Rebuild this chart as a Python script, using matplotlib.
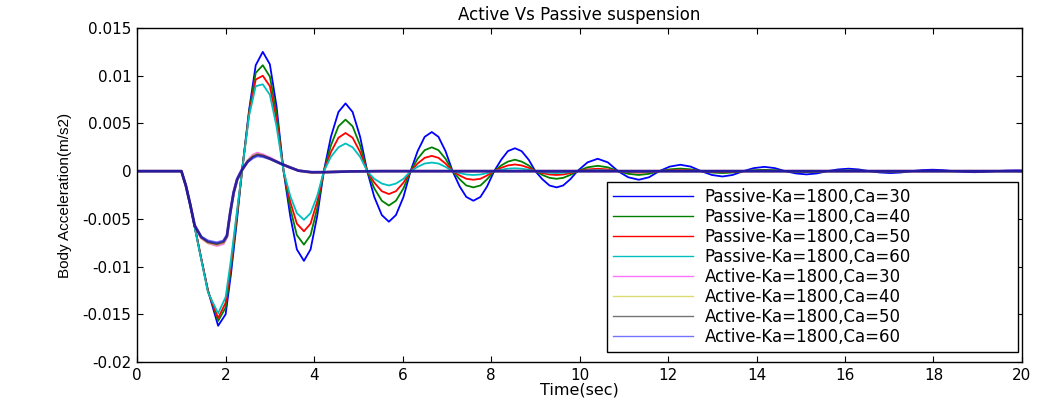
import matplotlib
matplotlib.use("Agg")
import matplotlib.pyplot as plt

# --- data ---
t_passive = [0.0, 1.0, 1.1, 1.2, 1.3, 1.45, 1.6, 1.83, 2.0, 2.12, 2.25, 2.37,
             2.53, 2.68, 2.84, 3.00, 3.15, 3.31,
             3.46, 3.61, 3.77, 3.92, 4.07, 4.22,
             4.38, 4.55, 4.71, 4.87, 5.04, 5.20,
             5.36, 5.53, 5.69, 5.85, 6.02, 6.18,
             6.34, 6.50, 6.66, 6.81, 6.97, 7.13,
             7.29, 7.44, 7.60, 7.76, 7.91, 8.07,
             8.23, 8.38, 8.54, 8.69, 8.85, 9.00,
             9.16, 9.32, 9.48, 9.63, 9.79, 9.95,
             10.18, 10.41, 10.64, 10.87,
             11.10, 11.34, 11.57, 11.80,
             12.04, 12.28, 12.51, 12.75,
             12.99, 13.23, 13.46, 13.70,
             13.94, 14.18, 14.41, 14.65,
             14.89, 15.13, 15.36, 15.60,
             15.84, 16.08, 16.31, 16.55,
             16.79, 17.03, 17.26, 17.50,
             17.74, 17.98, 18.21, 18.45,
             18.69, 18.93, 19.16, 19.40,
             19.64, 19.88, 20.00]

passive_ca30 = [0, 0, -0.0015, -0.0035, -0.0058, -0.0092, -0.0125, -0.0162, -0.0150, -0.0108, -0.0054, 0,
                0.0064, 0.0111, 0.0125, 0.0112, 0.0068, 0,
                -0.0047, -0.0082, -0.0094, -0.0082, -0.0047, 0,
                0.0036, 0.0062, 0.0071, 0.0062, 0.0036, 0,
                -0.0027, -0.0046, -0.0053, -0.0046, -0.0027, 0,
                0.0021, 0.0036, 0.0041, 0.0036, 0.0021, 0,
                -0.0016, -0.0027, -0.0031, -0.0027, -0.0016, 0,
                0.0012, 0.0021, 0.0024, 0.0021, 0.0012, 0,
                -0.00085, -0.0015, -0.0017, -0.0015, -0.00085, 0,
                0.00092, 0.0013, 0.00092, 0,
                -0.00064, -0.0009, -0.00064, 0,
                0.00048, 0.00067, 0.00048, 0,
                -0.0004, -0.00056, -0.0004, 0,
                0.00032, 0.00045, 0.00032, 0,
                -0.00024, -0.00034, -0.00024, 0,
                0.00018, 0.00026, 0.00018, 0,
                -0.00014, -0.0002, -0.00014, 0,
                0.00011, 0.00015, 0.00011, 0,
                -0.00008, -0.00011, -0.00008, 0,
                0.00006, 0.00008, 0.00007]

passive_ca40 = [0, 0, -0.0015, -0.0035, -0.0058, -0.0092, -0.0125, -0.0157, -0.0143, -0.0102, -0.0050, 0,
                0.0062, 0.0103, 0.0111, 0.0099, 0.0061, 0,
                -0.0039, -0.0067, -0.0077, -0.0067, -0.0039, 0,
                0.0027, 0.0047, 0.0054, 0.0047, 0.0027, 0,
                -0.0018, -0.0031, -0.0036, -0.0031, -0.0018, 0,
                0.0013, 0.0022, 0.0025, 0.0022, 0.0013, 0,
                -0.00085, -0.0015, -0.0017, -0.0015, -0.00085, 0,
                0.0006, 0.0010, 0.0012, 0.0010, 0.0006, 0,
                -0.0004, -0.0007, -0.0008, -0.0007, -0.0004, 0,
                0.0004, 0.00056, 0.0004, 0,
                -0.00028, -0.0004, -0.00028, 0,
                0.00019, 0.00027, 0.00019, 0,
                -0.00014, -0.0002, -0.00014, 0,
                0.0001, 0.00014, 0.0001, 0,
                -0.00007, -0.0001, -0.00007, 0,
                0.00005, 0.00007, 0.00005, 0,
                -0.00004, -0.00005, -0.00004, 0,
                0.00002, 0.00003, 0.00002, 0,
                0, 0, 0, 0,
                0, 0, 0]

passive_ca50 = [0, 0, -0.0015, -0.0035, -0.0058, -0.0092, -0.0126, -0.0154, -0.0138, -0.0098, -0.0047, 0,
                0.0060, 0.0096, 0.0100, 0.0089, 0.0054, 0,
                -0.0032, -0.0055, -0.0063, -0.0055, -0.0032, 0,
                0.0020, 0.0035, 0.0040, 0.0035, 0.0020, 0,
                -0.0012, -0.0021, -0.0024, -0.0021, -0.0012, 0,
                0.0008, 0.0014, 0.0016, 0.0014, 0.0008, 0,
                -0.00045, -0.0008, -0.0009, -0.0008, -0.00045, 0,
                0.00035, 0.0006, 0.0007, 0.0006, 0.00035, 0,
                -0.0002, -0.00035, -0.0004, -0.00035, -0.0002, 0,
                0.00018, 0.00025, 0.00018, 0,
                -0.0001, -0.00015, -0.0001, 0,
                0.00007, 0.0001, 0.00007, 0,
                -0.00004, -0.00006, -0.00004, 0,
                0.00003, 0.00004, 0.00003, 0,
                0, 0, 0, 0,
                0, 0, 0, 0,
                0, 0, 0, 0,
                0, 0, 0, 0,
                0, 0, 0, 0,
                0, 0, 0]

passive_ca60 = [0, 0, -0.0015, -0.0036, -0.0059, -0.0093, -0.0127, -0.0149, -0.0132, -0.0093, -0.0044, 0,
                0.0058, 0.0089, 0.0091, 0.0080, 0.0047, 0,
                -0.0026, -0.0044, -0.0051, -0.0044, -0.0026, 0,
                0.0015, 0.0025, 0.0029, 0.0025, 0.0015, 0,
                -0.0008, -0.0013, -0.0015, -0.0013, -0.0008, 0,
                0.00045, 0.0008, 0.0009, 0.0008, 0.00045, 0,
                -0.0002, -0.00035, -0.0004, -0.00035, -0.0002, 0,
                0.00015, 0.00026, 0.0003, 0.00026, 0.00015, 0,
                -0.0001, -0.00017, -0.0002, -0.00017, -0.0001, 0,
                0.00007, 0.0001, 0.00007, 0,
                -0.00004, -0.00005, -0.00004, 0,
                0, 0, 0, 0,
                0, 0, 0, 0,
                0, 0, 0, 0,
                0, 0, 0, 0,
                0, 0, 0, 0,
                0, 0, 0, 0,
                0, 0, 0, 0,
                0, 0, 0, 0,
                0, 0, 0]

t_active = [0.0, 1.0, 1.1, 1.2, 1.3, 1.45, 1.6, 1.8, 1.95, 2.03, 2.1, 2.18, 2.26, 2.37,
            2.5, 2.62, 2.72, 2.85, 3.0, 3.24, 3.45, 3.65, 3.95, 4.3, 4.8, 5.5, 20.0]

active_ca30 = [0, 0, -0.0015, -0.0035, -0.0057, -0.0070, -0.0075, -0.0078, -0.0076, -0.0069, -0.0045,
               -0.0023, -0.0009, 0.0001, 0.0011, 0.0017, 0.0019, 0.0017, 0.0014, 0.0008, 0.0004,
               0.00005, -0.00015, -0.0001, -0.00003, 0, 0]
active_ca40 = [0, 0, -0.0015, -0.0035, -0.0057, -0.0070, -0.0075, -0.0077, -0.0075, -0.0068, -0.0045,
               -0.0023, -0.0009, 0.0001, 0.0011, 0.0016, 0.0018, 0.0016, 0.0013, 0.0008, 0.0004,
               0.00005, -0.00015, -0.0001, -0.00003, 0, 0]
active_ca50 = [0, 0, -0.0015, -0.0035, -0.0057, -0.0069, -0.0074, -0.0076, -0.0074, -0.0068, -0.0045,
               -0.0023, -0.0009, 0.0001, 0.0010, 0.0015, 0.0017, 0.0016, 0.0013, 0.0008, 0.0004,
               0.00005, -0.00012, -0.0001, -0.00003, 0, 0]
active_ca60 = [0, 0, -0.0015, -0.0035, -0.0057, -0.0069, -0.0073, -0.0075, -0.0073, -0.0067, -0.0044,
               -0.0022, -0.0008, 0.0002, 0.0010, 0.0014, 0.0016, 0.0015, 0.0013, 0.0008, 0.0004,
               0.00005, -0.0001, -0.0001, -0.00003, 0, 0]

labels = ["Passive-Ka=1800,Ca=30", "Passive-Ka=1800,Ca=40", "Passive-Ka=1800,Ca=50",
          "Passive-Ka=1800,Ca=60", "Active-Ka=1800,Ca=30", "Active-Ka=1800,Ca=40",
          "Active-Ka=1800,Ca=50", "Active-Ka=1800,Ca=60"]

x_ticks = [0, 2, 4, 6, 8, 10, 12, 14, 16, 18, 20]
y_ticks = [0.015, 0.01, 0.005, 0, -0.005, -0.01, -0.015, -0.02]
y_tick_labels = ["0.015", "0.01", "0.005", "0", "-0.005", "-0.01", "-0.015", "-0.02"]

# --- plot ---
fig = plt.figure(figsize=(10.39, 4.03), dpi=100)
ax = fig.add_axes([0.132, 0.1017, 0.8516, 0.8288])

passive = [passive_ca30, passive_ca40, passive_ca50, passive_ca60]
active = [active_ca30, active_ca40, active_ca50, active_ca60]
p_colors = ["#0000ff", "#008000", "#ff0000", "#00bfbf"]
a_colors = ["#ff00ff", "#bfbf00", "#000000", "#0000ff"]

for y, c, lab in zip(passive, p_colors, labels[:4]):
    ax.plot(t_passive, y, color=c, lw=1.3, label=lab)
for y, c, lab in zip(active, a_colors, labels[4:]):
    ax.plot(t_active, y, color=c, lw=1.9, alpha=0.55, label=lab)

ax.set_xlim(0, 20)
ax.set_ylim(-0.02, 0.015)
ax.set_xticks(x_ticks)
ax.set_xticklabels([str(v) for v in x_ticks])
ax.set_yticks(y_ticks)
ax.set_yticklabels(y_tick_labels)
ax.tick_params(direction="in", length=4, width=0.8, top=True, right=True,
               labelsize=11, pad=4)
for s in ax.spines.values():
    s.set_linewidth(1.0)

ax.set_title("Active Vs Passive suspension", fontsize=12, pad=6)
ax.set_xlabel("Time(sec)", fontsize=11.5, labelpad=0)
ax.set_ylabel("Body Acceleration(m/s2)", fontsize=11,
              family=["Liberation Sans Narrow", "Liberation Sans"], labelpad=8)

leg = ax.legend(loc="lower left", bbox_to_anchor=(0.531, 0.03, 0.4645, 0.449),
                mode="expand", fontsize=12, labelspacing=0.12, handlelength=4.8,
                handletextpad=0.7, borderpad=0.35, borderaxespad=0,
                fancybox=False, framealpha=1)
leg.get_frame().set_edgecolor("black")
leg.get_frame().set_linewidth(1.0)
for line in leg.get_lines():
    line.set_linewidth(1.0)

fig.savefig("out.png", dpi=100)
